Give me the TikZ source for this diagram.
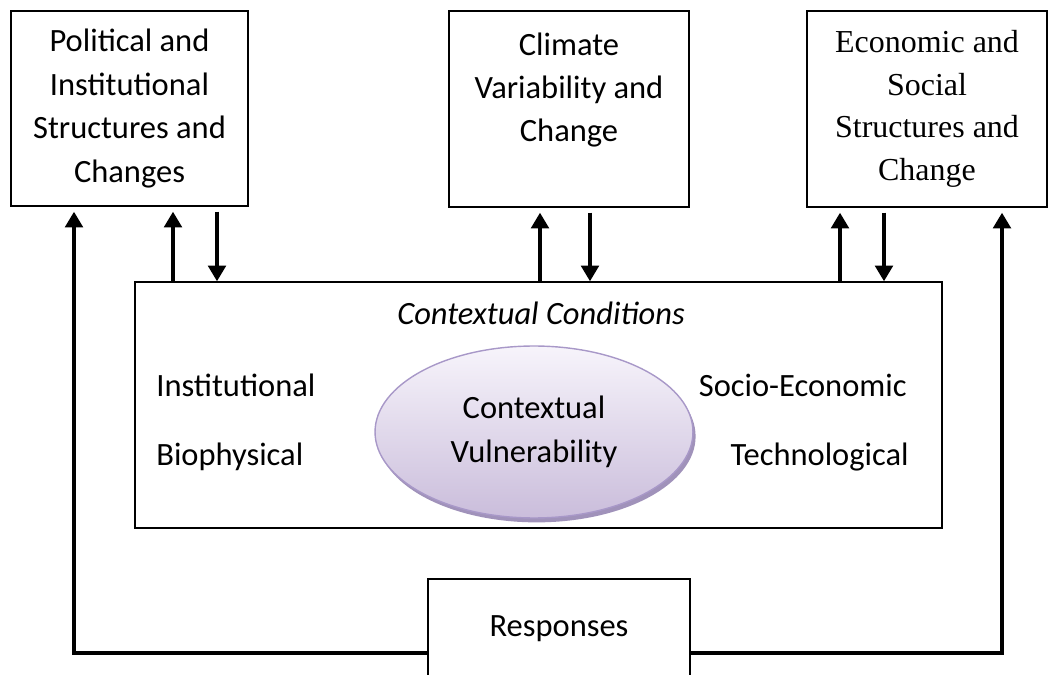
\documentclass[tikz,border=0pt]{standalone}
\usepackage{fontspec}
\setmainfont{Carlito}
\newfontfamily\romfont{Liberation Serif}
\usetikzlibrary{positioning,calc}
\usetikzlibrary{arrows.meta,shapes.geometric,shadows}
\definecolor{VulTop}{RGB}{247,244,251}
\definecolor{VulBot}{RGB}{202,189,219}
\definecolor{VulEdge}{RGB}{168,152,200}
\definecolor{VulShade}{RGB}{150,134,178}
\tikzset{
  box/.style={draw=black,line width=0.8pt,minimum width=4.8cm,minimum height=3.92cm,
    align=center,inner sep=0pt,font=\fontsize{18.5}{24.7}\selectfont},
  lab/.style={inner sep=0pt,font=\fontsize{18.5}{24.7}\selectfont},
  vul/.style={ellipse,draw=VulEdge,line width=0.8pt,top color=VulTop,bottom color=VulBot,
    minimum width=6.36cm,minimum height=3.44cm,align=center,inner sep=0pt,
    drop shadow={shadow xshift=1.5pt,shadow yshift=-2.5pt,fill=VulShade,opacity=0.9},
    font=\fontsize{18.5}{24.7}\selectfont},
  updown/.style={line width=2.2pt,-{Triangle[length=9pt,width=10pt]}},
  feed/.style={line width=2.5pt,-{Triangle[length=9pt,width=10pt]}},
}

\begin{document}
\begin{tikzpicture}[x=0.02cm,y=-0.02cm]
\useasboundingbox (0,0) rectangle (1049,675);
\clip (0,0) rectangle (1049,675);
\node[box,minimum width=4.74cm,minimum height=3.9cm] (polit) at (129.5,108.5) {Political and\\Institutional\\Structures and\\Changes};
\node[box] (clim) at (569,109) {Climate\\Variability and\\Change\\\mbox{}};
\node[box,font=\romfont\fontsize{18.2}{24.2}\selectfont] (econ) at (927,109) {Economic and\\Social\\Structures and\\Change};
\node[box,minimum width=16.14cm,minimum height=4.92cm] (ctx) at (538.5,405) {};
\node[lab,anchor=west,font=\fontsize{18.5}{24.7}\selectfont\itshape] (cond) at (397,313) {Contextual Conditions};
\node[lab,anchor=west] (inst) at (156,385) {Institutional};
\node[lab,anchor=west] (bio) at (156,457) {Biophysical};
\node[lab,anchor=east] (socio) at (907,385) {Socio-Economic};
\node[lab,anchor=east] (tech) at (909,457) {Technological};
\node[vul] (vuln) at (534,432) {Contextual\\Vulnerability};
\node[box,minimum width=5.24cm,minimum height=2cm] (resp) at (559,629) {Responses};
\foreach \nm/\up/\dn in {polit/173/217,clim/540/590,econ/840/884}{
  \coordinate (u) at (\up,0);
  \coordinate (d) at (\dn,0);
  \draw[updown] (ctx.north -| u) -- ($(\nm.south -| u)+(0,5)$);
  \draw[updown] ($(\nm.south -| d)+(0,5)$) -- (ctx.north -| d);
}
\coordinate (fl) at (74,653);
\coordinate (fr) at (1002,653);
\draw[feed] (resp.west |- fl) -- (fl) -- ($(polit.south -| fl)+(0,5)$);
\draw[feed] (resp.east |- fr) -- (fr) -- ($(econ.south -| fr)+(0,5)$);
\end{tikzpicture}
\end{document}
